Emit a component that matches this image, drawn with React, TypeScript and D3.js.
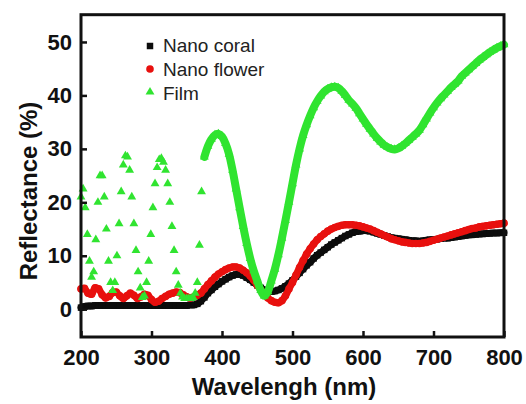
import React, { useEffect, useRef } from "react";
import * as d3 from "d3";

// wavelength grid (nm) shared by the two nano samples
const wavelengths = d3.range(200, 801, 5);

// Nano coral reflectance (%)
const coral = [
  0.3, 0.5, 0.6, 0.6, 0.7, 0.7, 0.7, 0.7, 0.7, 0.7, 0.7, 0.7, 0.7, 0.7, 0.7, 0.7,
  0.7, 0.7, 0.7, 0.7, 0.7, 0.7, 0.7, 0.7, 0.7, 0.7, 0.7, 0.7, 0.7, 0.7, 0.7, 0.8,
  0.8, 1.0, 1.5, 2.2, 3.0, 3.6, 4.2, 4.7, 5.2, 5.6, 6.0, 6.3, 6.5, 6.5, 6.3, 5.9,
  5.5, 5.0, 4.5, 4.0, 3.6, 3.4, 3.3, 3.4,
  3.6, 3.9, 4.3, 4.8, 5.4, 6.1, 6.8, 7.5, 8.2, 8.8, 9.5, 10.1, 10.6, 11.1, 11.6,
  12.1, 12.5, 12.9, 13.3, 13.7, 14.0, 14.3, 14.5, 14.6, 14.7, 14.7, 14.6, 14.4,
  14.2, 14.0, 13.8, 13.6, 13.4, 13.3, 13.2, 13.1, 13.0, 12.9, 12.8, 12.8, 12.7,
  12.8, 12.9, 13.0, 13.0, 13.1, 13.2, 13.3, 13.3, 13.4, 13.5, 13.6, 13.7, 13.8,
  13.9, 13.95, 14.0, 14.05, 14.1, 14.15, 14.2, 14.25, 14.25, 14.3, 14.3,
];

// Nano flower reflectance (%)
const flower = [
  3.8, 3.9, 3.0, 2.8, 4.0, 3.8, 2.7, 2.1, 2.4, 3.1, 3.2, 2.5, 2.0, 2.5, 3.0, 2.6,
  2.0, 2.3, 2.8, 2.6, 1.8, 1.3, 1.5, 2.0, 2.4, 2.8, 3.0, 3.2, 3.1, 2.7, 2.3, 2.1,
  2.3,
  2.6, 3.0, 3.8, 4.6, 5.3, 6.0, 6.6, 7.0, 7.4, 7.7, 7.9, 7.9, 7.7, 7.3, 6.8, 6.2,
  5.4, 4.5, 3.6, 2.8, 2.1, 1.6, 1.3,
  1.2, 1.6, 2.5, 3.8, 5.0, 6.4, 7.8, 9.1, 10.3, 11.3, 12.2, 13.0, 13.6, 14.1, 14.6,
  15.0, 15.3, 15.5, 15.7, 15.8, 15.8, 15.8, 15.7, 15.6, 15.4, 15.2, 15.0, 14.7,
  14.4, 14.1, 13.8, 13.5, 13.2, 13.0, 12.8, 12.6, 12.5, 12.4, 12.3, 12.3, 12.3,
  12.4, 12.5, 12.7, 12.9, 13.1, 13.3, 13.5, 13.7, 13.9, 14.1, 14.3, 14.5, 14.7,
  14.9, 15.1, 15.2, 15.4, 15.5, 15.6, 15.7, 15.8, 15.9, 16.0, 16.1,
];

// Film: fast fringes below 372 nm (markers only)
const filmFringeWl = d3.range(200, 372, 3);
const filmFringe = [
  21, 22.5, 19, 14, 9, 6, 7, 13, 20, 25, 25, 21, 15, 9, 5, 3.5, 5, 10, 16, 22, 27,
  28.7, 28.5, 26, 21, 16, 11, 7, 4, 2.2, 2.5, 5, 9, 14, 19, 23.5, 26.5, 28, 28.2,
  27.5, 26, 23.5, 20, 15.5, 11, 7, 4.5, 3, 2.3, 2, 2, 2, 2, 2.2, 3, 5, 12, 22,
];

// Film: smooth part from 375 nm
const filmWl = d3.range(375, 801, 5);
const film = [
  28.5, 30.5, 31.8, 32.6, 32.8, 32.3, 31, 29, 26, 22.5, 19, 15.5, 12.3, 9.5, 7.2,
  5.3, 3.5, 2.5, 3.3, 5.3, 7.5, 10.2, 13.3, 16.6, 20, 23.5, 27, 30, 32.5, 34.5,
  36.2, 37.7, 38.9, 39.9, 40.7, 41.2, 41.5, 41.6, 41.4, 40.8, 40.0, 39.1, 38.4,
  37.6, 36.6, 35.6, 34.6, 33.7, 32.8, 32.0, 31.3, 30.7, 30.3, 30.0, 29.9, 30.1,
  30.5, 31.0, 31.6, 32.2, 32.8, 33.5, 34.5, 35.6, 36.7, 37.7, 38.6, 39.4, 40.1,
  40.8, 41.5, 42.1, 42.7, 43.6, 44.2, 44.8, 45.4, 46.0, 46.6, 47.1, 47.6, 48.1,
  48.5, 48.9, 49.2, 49.5,
];

const xTicks = [200, 300, 400, 500, 600, 700, 800];
const yTicks = [0, 10, 20, 30, 40, 50];
const legendLabels = ["Nano coral", "Nano flower", "Film"];

const BLACK = "#0c0c0c";
const RED = "#e8100e";
const GREEN = "#30e430";
const FONT = "'Liberation Sans', Arial, sans-serif";

export default function App() {
  const xAxisRef = useRef<SVGGElement>(null);
  const yAxisRef = useRef<SVGGElement>(null);

  const x = d3.scaleLinear().domain([200, 800]).range([81, 504]);
  const y = d3.scaleLinear().domain([-5.2, 55.1]).range([337, 14.7]);

  useEffect(() => {
    const gx = d3.select(xAxisRef.current);
    gx.call(d3.axisBottom(x).tickValues(xTicks).tickSizeInner(-6).tickSizeOuter(0).tickPadding(12));
    gx.select(".domain").remove();
    gx.attr("font-size", 22).attr("font-family", FONT).attr("font-weight", "bold").style("color", "#111");
    gx.selectAll(".tick line").attr("stroke-width", 2.5);

    const gy = d3.select(yAxisRef.current);
    gy.call(d3.axisLeft(y).tickValues(yTicks).tickSizeInner(-6).tickSizeOuter(0).tickPadding(9));
    gy.select(".domain").remove();
    gy.attr("font-size", 22).attr("font-family", FONT).attr("font-weight", "bold").style("color", "#111");
    gy.selectAll(".tick line").attr("stroke-width", 2.5);
  }, []);

  const lineNano = d3.line<number>()
    .x((d, i) => x(wavelengths[i]))
    .y(d => y(d))
    .curve(d3.curveCatmullRom);
  const lineFilm = d3.line<number>()
    .x((d, i) => x(filmWl[i]))
    .y(d => y(d))
    .curve(d3.curveCatmullRom);

  const square = d3.symbol(d3.symbolSquare, 42)()!;
  const triangle = d3.symbol(d3.symbolTriangle, 34)()!;

  return (
    <svg width={526} height={404} style={{ position: "absolute", left: 0, top: 0, background: "#fff" }}>
      {/* Nano coral */}
      <path d={lineNano(coral)!} fill="none" stroke={BLACK} strokeWidth={7} strokeLinecap="round" />
      {coral.map((v, i) => (
        <path key={"c" + i} d={square} transform={`translate(${x(wavelengths[i])},${y(v)})`} fill={BLACK} />
      ))}

      {/* Nano flower */}
      <path d={lineNano(flower)!} fill="none" stroke={RED} strokeWidth={7} strokeLinecap="round" />
      {flower.map((v, i) => (
        <circle key={"f" + i} cx={x(wavelengths[i])} cy={y(v)} r={3.8} fill={RED} />
      ))}

      {/* Film */}
      <path d={lineFilm(film)!} fill="none" stroke={GREEN} strokeWidth={8} strokeLinecap="round" />
      {film.map((v, i) => (
        <path key={"g" + i} d={triangle} transform={`translate(${x(filmWl[i])},${y(v)})`} fill={GREEN} />
      ))}
      {filmFringe.map((v, i) => (
        <path key={"h" + i} d={triangle} transform={`translate(${x(filmFringeWl[i])},${y(v)})`} fill={GREEN} />
      ))}

      {/* frame */}
      <rect x={81} y={14.7} width={423} height={322.3} fill="none" stroke="#111" strokeWidth={3} />
      <g ref={xAxisRef} transform="translate(0,337)" />
      <g ref={yAxisRef} transform="translate(81,0)" />

      {/* legend */}
      <g fontFamily={FONT} fontSize={19} fill="#222">
        <path d={square} transform="translate(150,46)" fill={BLACK} />
        <circle cx={150} cy={69} r={3.8} fill={RED} />
        <path d={triangle} transform="translate(150,92)" fill={GREEN} />
        {legendLabels.map((t, i) => (
          <text key={t} x={163} y={52 + i * 24}>{t}</text>
        ))}
      </g>

      {/* axis titles */}
      <text x={284} y={395} textAnchor="middle" fontFamily={FONT} fontWeight="bold" fontSize={24} fill="#111">
        Wavelengh (nm)
      </text>
      <text transform="translate(37,191) rotate(-90)" textAnchor="middle" fontFamily={FONT} fontWeight="bold" fontSize={24} fill="#111">
        Reflectance (%)
      </text>
    </svg>
  );
}
